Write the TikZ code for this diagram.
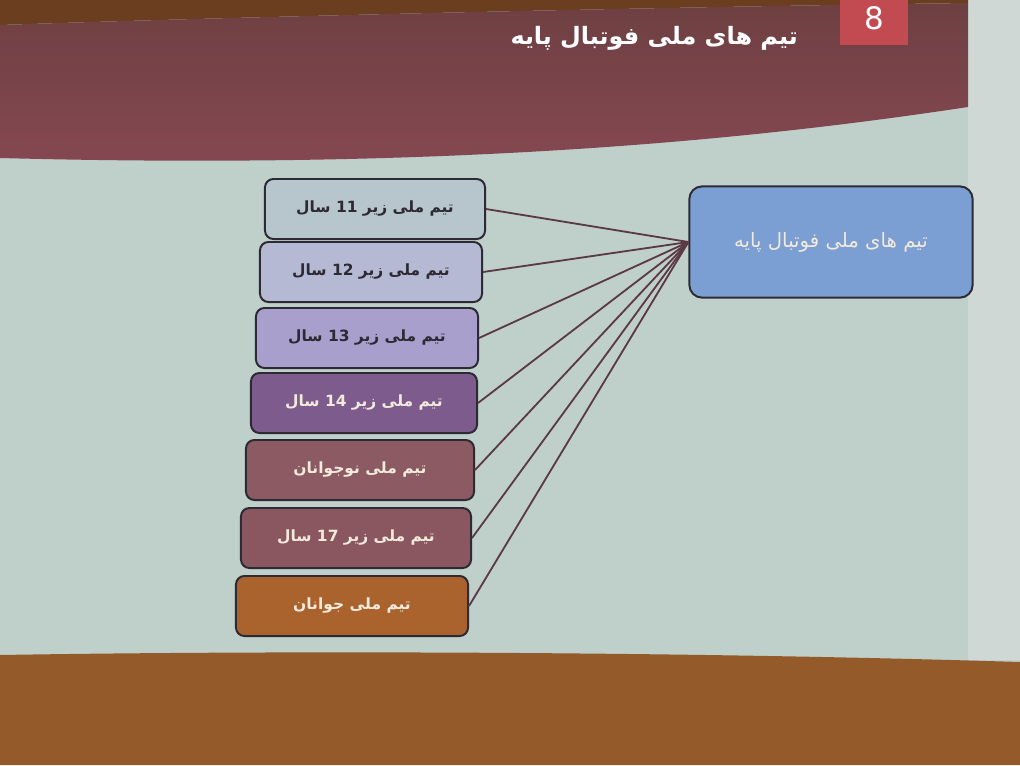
\documentclass[tikz,border=0pt]{standalone}
\usepackage{fontspec}
\newfontfamily\farsifont[Script=Arabic]{DejaVu Sans}
\TeXXeTstate=1
\usetikzlibrary{positioning}

\definecolor{slidebg}{HTML}{BFCFCA}
\definecolor{wallside}{HTML}{CFD8D4}
\definecolor{topstrip}{HTML}{6C3E20}
\definecolor{bannertop}{HTML}{6E4042}
\definecolor{bannerbot}{HTML}{864852}
\definecolor{numbox}{HTML}{C24B52}
\definecolor{footband}{HTML}{955A2A}
\definecolor{boxline}{HTML}{2D2A33}
\definecolor{linkline}{HTML}{5B3A45}
\definecolor{fillA}{HTML}{B7C5CC}
\definecolor{fillB}{HTML}{B5B9D3}
\definecolor{fillC}{HTML}{A89FCC}
\definecolor{fillD}{HTML}{7D5B8C}
\definecolor{fillE}{HTML}{8C5A62}
\definecolor{fillF}{HTML}{8A5660}
\definecolor{fillG}{HTML}{AB632E}
\definecolor{fillbase}{HTML}{7B9ED3}
\definecolor{lighttext}{HTML}{F2EADC}

\tikzset{
  teambox/.style={draw=boxline, line width=1.4pt, rounded corners=6pt,
    minimum height=1.5cm, align=center,
    font=\farsifont\bfseries\fontsize{11}{13}\selectfont},
  darktext/.style={text=boxline},
  brighttext/.style={text=lighttext},
  link/.style={draw=linkline, line width=1.3pt}
}

\begin{document}
\begin{tikzpicture}[x=0.025cm,y=-0.025cm]
  \useasboundingbox (0,0) rectangle (1020,765);

  % Slide and wall
  \fill[slidebg] (0,0) rectangle (1020,765);
  \fill[wallside] (968,0) rectangle (1020,660);

  % Title banner
  \fill[topstrip] (0,0) -- (968,0) -- (968,3) .. controls (600,8) and (200,18) .. (0,25) -- cycle;
  \shade[top color=bannertop, bottom color=bannerbot]
    (0,25) .. controls (200,18) and (600,8) .. (968,3) -- (968,107)
    .. controls (750,140) and (450,170) .. (0,158) -- cycle;
  \fill[numbox] (840,0) rectangle (908,45);
  \node[text=white, font=\farsifont\fontsize{22}{24}\selectfont] (slideno) at (874,18) {8};
  \node[text=white, font=\farsifont\bfseries\fontsize{17}{20}\selectfont, anchor=east]
    (title) at (803,38) {\beginR تیم های ملی فوتبال پایه\endR};

  % Footer band
  \fill[footband] (0,655) .. controls (300,650) and (700,652) .. (1020,662) -- (1020,765) -- (0,765) -- cycle;

  % Main box
  \node[teambox, fill=fillbase, brighttext, minimum width=7.08cm, minimum height=2.78cm,
    rounded corners=9pt, font=\farsifont\fontsize{14}{16}\selectfont] (base) at (831,242)
    {\beginR تیم های ملی فوتبال پایه\endR};

  % Team boxes
  \node[teambox, fill=fillA, darktext, minimum width=5.5cm] (u11) at (375,209)
    {\beginR تیم ملی زیر 11 سال\endR};
  \node[teambox, fill=fillB, darktext, minimum width=5.55cm] (u12) at (371,272)
    {\beginR تیم ملی زیر 12 سال\endR};
  \node[teambox, fill=fillC, darktext, minimum width=5.55cm] (u13) at (367,338)
    {\beginR تیم ملی زیر 13 سال\endR};
  \node[teambox, fill=fillD, brighttext, minimum width=5.65cm] (u14) at (364,403)
    {\beginR تیم ملی زیر 14 سال\endR};
  \node[teambox, fill=fillE, brighttext, minimum width=5.7cm] (teen) at (360,470)
    {\beginR تیم ملی نوجوانان\endR};
  \node[teambox, fill=fillF, brighttext, minimum width=5.75cm] (u17) at (356,538)
    {\beginR تیم ملی زیر 17 سال\endR};
  \node[teambox, fill=fillG, brighttext, minimum width=5.8cm] (youth) at (352,606)
    {\beginR تیم ملی جوانان\endR};

  % Links
  \foreach \n in {u11,u12,u13,u14,teen,u17,youth}
    \draw[link] (\n.east) -- (base.west);

\end{tikzpicture}
\end{document}
